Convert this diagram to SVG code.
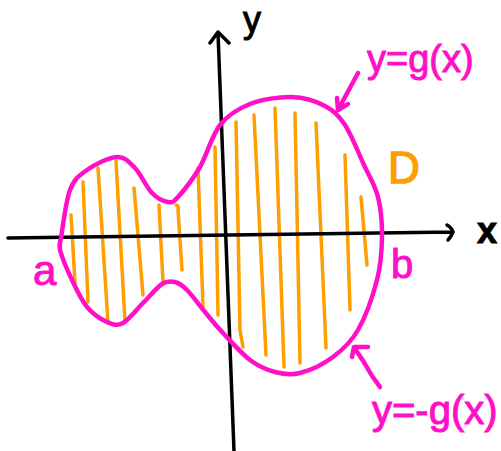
<svg xmlns="http://www.w3.org/2000/svg" width="501" height="451" viewBox="0 0 501 451">
<style>
.ax{fill:none;stroke:#000;stroke-width:3.5;stroke-linecap:round;stroke-linejoin:round}
.pk{fill:none;stroke:#ff10c8;stroke-width:4.5;stroke-linecap:round;stroke-linejoin:round}
.or{fill:none;stroke:#ff9e00;stroke-width:3.5;stroke-linecap:round}
.t{font-family:"Liberation Sans",Arial,sans-serif}
.tp{fill:#ff10c8;stroke:#ff10c8;stroke-width:1}
.tb{fill:#000;stroke:#000;stroke-width:1}
.to{fill:#ff9e00;stroke:#ff9e00;stroke-width:1.5}
</style>
<rect width="501" height="451" fill="#fff"/>
<g id="hatching">
<path class="or" d="M71,215 L75,283"/>
<path class="or" d="M83,182 L88,302"/>
<path class="or" d="M98,168 L108,323"/>
<path class="or" d="M116,161 L125,322"/>
<path class="or" d="M134,188 L143,295"/>
<path class="or" d="M159,205 L163,282"/>
<path class="or" d="M176,205 Q179,205 178,210 L182,270"/>
<path class="or" d="M198,168 L203,307"/>
<path class="or" d="M215,147 L218,315"/>
<path class="or" d="M236,122 L240,330 L243,347"/>
<path class="or" d="M254,115 L266,355"/>
<path class="or" d="M275,108 L284,367"/>
<path class="or" d="M295,113 L300,363"/>
<path class="or" d="M316,123 L326,348"/>
<path class="or" d="M345,155 L350,310"/>
<path class="or" d="M361,197 L367,265"/>
</g>
<g id="axes">
<path id="x-axis" class="ax" d="M8,238 L453,232 M447,225 Q452,228 453,232 Q451,237 448,240"/>
<path id="y-axis" class="ax" d="M218,33 L234,451 M210,43 L218,32 L229,43"/>
</g>
<g id="region-D">
<path class="pk" d="M61,238 C62.7,228 65.7,201.3 70,190 C74.3,178.7 79.2,175.5 87,170 C94.8,164.5 109,157.3 117,157 C125,156.7 129.2,162 135,168 C140.8,174 146.5,187.3 152,193 C157.5,198.7 163.7,201.3 168,202 C172.3,202.7 172.7,202.8 178,197 C183.3,191.2 193,179 200,167 C207,155 211.7,135.5 220,125 C228.3,114.5 238,108.7 250,104 C262,99.3 279.5,96.7 292,97 C304.5,97.3 316.2,101.3 325,106 C333.8,110.7 338.5,115.2 345,125 C351.5,134.8 358.5,153 364,165 C369.5,177 375,185 378,197 C381,209 382.2,223.2 382,237 C381.8,250.8 381,264.5 377,280 C373,295.5 365.3,317.2 358,330 C350.7,342.8 342.7,349.8 333,357 C323.3,364.2 309.7,370.5 300,373 C290.3,375.5 283.3,374.2 275,372 C266.7,369.8 258.7,366.5 250,360 C241.3,353.5 230.5,341 223,333 C215.5,325 211,319.2 205,312 C199,304.8 192,295 187,290 C182,285 179.2,283 175,282 C170.8,281 167.3,280.5 162,284 C156.7,287.5 149.5,296.5 143,303 C136.5,309.5 129,319.8 123,323 C117,326.2 113,324.7 107,322 C101,319.3 92.8,314 87,307 C81.2,300 76.5,289.5 72,280 C67.5,270.5 61.8,257 60,250 C59,245 60,241 61,238 Z"/>
</g>
<g id="connectors">
<path class="pk" d="M358,73 L338,110 M337,98 L338,110 L348,104"/>
<path class="pk" d="M380,387 Q372,377 365,364 Q359,354 354,348 M352,357 L354,347 L368,347"/>
</g>
<g id="labels">
<text class="t tb" x="243" y="32" font-size="36">y</text>
<text class="t tb" x="477" y="243" font-size="36" font-weight="bold">x</text>
<text class="t to" x="388" y="183" font-size="44">D</text>
<text class="t tp" x="33" y="285" font-size="42">a</text>
<text class="t tp" x="391" y="278" font-size="40">b</text>
<text class="t tp" x="367" y="72" font-size="38">y=g(x)</text>
<text class="t tp" x="372" y="424" font-size="40">y=-g(x)</text>
</g>
</svg>
